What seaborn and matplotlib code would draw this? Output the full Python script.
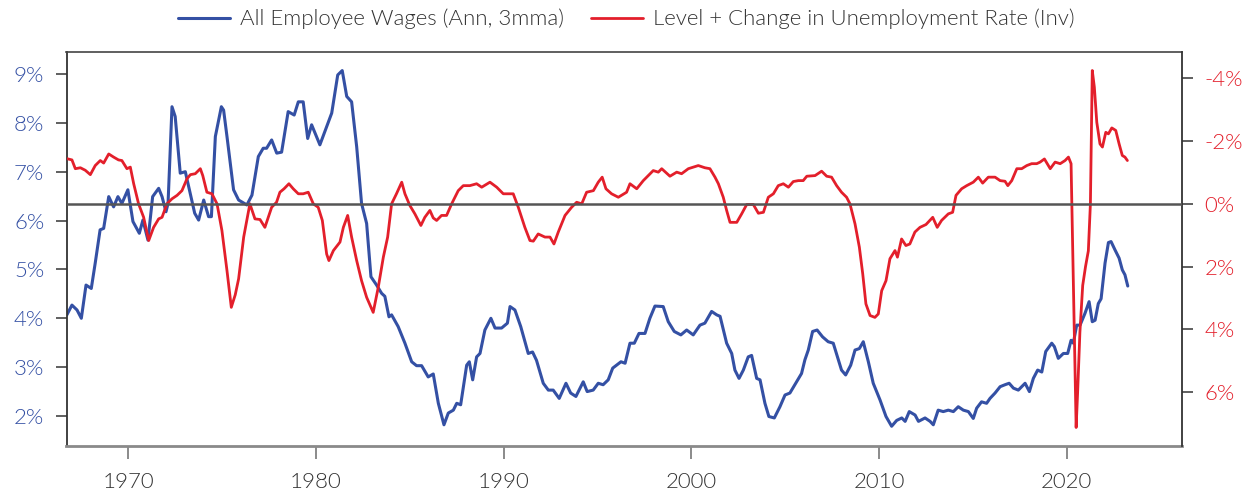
import numpy as np
import pandas as pd
import matplotlib
matplotlib.use("Agg")
import matplotlib.pyplot as plt
import seaborn as sns
from matplotlib.ticker import FuncFormatter
from matplotlib import font_manager as fm

# ---------------- data ----------------
wage_years = [
    1966.73, 1967.00, 1967.27, 1967.50, 1967.75, 1968.03, 1968.24, 1968.50, 1968.69, 1968.96,
    1969.22, 1969.45, 1969.66, 1969.98, 1970.25, 1970.59, 1970.78, 1971.05, 1971.30, 1971.62,
    1971.80, 1972.01, 1972.12, 1972.33, 1972.50, 1972.77, 1973.04, 1973.30, 1973.54, 1973.75,
    1974.02, 1974.28, 1974.43, 1974.64, 1974.96, 1975.08, 1975.26, 1975.61, 1975.88, 1976.32,
    1976.59, 1976.93, 1977.19, 1977.37, 1977.64, 1977.91, 1978.17, 1978.52, 1978.84, 1979.06,
    1979.32, 1979.56, 1979.77, 1980.21, 1980.57, 1980.84, 1981.16, 1981.40, 1981.64, 1981.90,
    1982.17, 1982.43, 1982.70, 1982.93, 1983.23, 1983.50, 1983.67, 1983.89, 1984.03, 1984.38,
    1984.74, 1985.10, 1985.36, 1985.63, 1985.98, 1986.25, 1986.52, 1986.82, 1987.05, 1987.32,
    1987.50, 1987.71, 1988.03, 1988.17, 1988.35, 1988.56, 1988.74, 1989.00, 1989.32, 1989.54,
    1989.89, 1990.20, 1990.34, 1990.60, 1990.91, 1991.31, 1991.54, 1991.75, 1992.11, 1992.38,
    1992.64, 1992.96, 1993.32, 1993.57, 1993.85, 1994.24, 1994.45, 1994.77, 1995.04, 1995.30,
    1995.57, 1995.81, 1996.25, 1996.47, 1996.73, 1996.96, 1997.21, 1997.53, 1997.79, 1998.06,
    1998.50, 1998.77, 1999.09, 1999.44, 1999.75, 2000.10, 2000.46, 2000.72, 2001.08, 2001.35,
    2001.53, 2001.88, 2002.15, 2002.32, 2002.54, 2002.77, 2003.03, 2003.21, 2003.48, 2003.66,
    2003.92, 2004.13, 2004.42, 2004.72, 2004.99, 2005.25, 2005.61, 2005.87, 2006.05, 2006.23,
    2006.46, 2006.70, 2006.99, 2007.29, 2007.56, 2007.73, 2008.00, 2008.22, 2008.49, 2008.72,
    2008.95, 2009.16, 2009.43, 2009.69, 2010.05, 2010.37, 2010.67, 2010.94, 2011.21, 2011.39,
    2011.61, 2011.92, 2012.10, 2012.45, 2012.72, 2012.89, 2013.15, 2013.42, 2013.69, 2013.96,
    2014.22, 2014.49, 2014.76, 2015.02, 2015.20, 2015.46, 2015.73, 2015.91, 2016.18, 2016.45,
    2016.71, 2016.93, 2017.16, 2017.42, 2017.78, 2018.01, 2018.22, 2018.45, 2018.67, 2018.88,
    2019.20, 2019.34, 2019.55, 2019.82, 2020.05, 2020.23, 2020.35, 2020.53, 2020.71, 2020.97,
    2021.19, 2021.36, 2021.51, 2021.68, 2021.83, 2022.04, 2022.22, 2022.36, 2022.57, 2022.79,
    2022.96, 2023.10, 2023.25,
]
wage_values = [
    4.07, 4.27, 4.17, 4.00, 4.68, 4.61, 5.13, 5.81, 5.84, 6.49,
    6.28, 6.49, 6.35, 6.63, 5.98, 5.74, 6.01, 5.60, 6.49, 6.66,
    6.49, 6.18, 6.35, 8.33, 8.13, 6.97, 7.00, 6.56, 6.15, 6.01,
    6.42, 6.08, 6.08, 7.72, 8.33, 8.26, 7.72, 6.63, 6.42, 6.32,
    6.52, 7.31, 7.48, 7.48, 7.65, 7.38, 7.40, 8.23, 8.16, 8.43,
    8.43, 7.68, 7.96, 7.55, 7.92, 8.20, 8.98, 9.07, 8.54, 8.43,
    7.51, 6.35, 5.94, 4.85, 4.68, 4.51, 4.45, 4.03, 4.07, 3.83,
    3.49, 3.11, 3.03, 3.03, 2.80, 2.86, 2.26, 1.82, 2.06, 2.12,
    2.26, 2.23, 3.04, 3.11, 2.74, 3.21, 3.28, 3.76, 4.00, 3.80,
    3.80, 3.90, 4.24, 4.17, 3.83, 3.28, 3.31, 3.14, 2.67, 2.53,
    2.53, 2.36, 2.67, 2.47, 2.40, 2.70, 2.50, 2.53, 2.67, 2.64,
    2.74, 2.98, 3.11, 3.08, 3.49, 3.49, 3.69, 3.69, 4.00, 4.25,
    4.24, 3.93, 3.73, 3.66, 3.76, 3.66, 3.86, 3.90, 4.14, 4.07,
    4.04, 3.49, 3.28, 2.94, 2.77, 2.94, 3.21, 3.24, 2.77, 2.74,
    2.26, 1.99, 1.96, 2.19, 2.43, 2.47, 2.70, 2.87, 3.15, 3.35,
    3.73, 3.76, 3.62, 3.52, 3.49, 3.28, 2.94, 2.84, 3.04, 3.35,
    3.38, 3.52, 3.11, 2.67, 2.33, 1.99, 1.79, 1.91, 1.96, 1.89,
    2.09, 2.02, 1.89, 1.96, 1.89, 1.82, 2.12, 2.09, 2.12, 2.09,
    2.19, 2.12, 2.09, 1.95, 2.16, 2.29, 2.26, 2.36, 2.47, 2.60,
    2.64, 2.67, 2.57, 2.53, 2.67, 2.50, 2.77, 2.94, 2.90, 3.32,
    3.49, 3.42, 3.18, 3.28, 3.28, 3.55, 3.49, 3.86, 3.86, 4.10,
    4.34, 3.93, 3.96, 4.30, 4.40, 5.13, 5.55, 5.57, 5.40, 5.23,
    4.99, 4.89, 4.66,
]

unemp_years = [
    1966.73, 1967.00, 1967.18, 1967.45, 1967.71, 1967.98, 1968.24, 1968.51, 1968.69, 1968.96,
    1969.22, 1969.48, 1969.66, 1969.93, 1970.11, 1970.29, 1970.55, 1970.82, 1971.09, 1971.35,
    1971.62, 1971.80, 1972.06, 1972.33, 1972.60, 1972.86, 1973.13, 1973.31, 1973.57, 1973.84,
    1973.97, 1974.19, 1974.46, 1974.73, 1974.99, 1975.26, 1975.49, 1975.70, 1975.88, 1976.15,
    1976.48, 1976.75, 1977.02, 1977.28, 1977.64, 1977.90, 1978.08, 1978.30, 1978.56, 1978.79,
    1979.06, 1979.32, 1979.59, 1979.86, 1980.12, 1980.34, 1980.57, 1980.69, 1980.93, 1981.28,
    1981.46, 1981.69, 1981.90, 1982.17, 1982.43, 1982.70, 1983.05, 1983.32, 1983.59, 1983.82,
    1984.03, 1984.29, 1984.57, 1984.74, 1985.00, 1985.27, 1985.59, 1985.80, 1986.07, 1986.25,
    1986.43, 1986.69, 1986.96, 1987.23, 1987.58, 1987.85, 1988.20, 1988.56, 1988.83, 1989.27,
    1989.63, 1989.98, 1990.51, 1990.78, 1991.13, 1991.40, 1991.58, 1991.84, 1992.20, 1992.47,
    1992.68, 1992.91, 1993.27, 1993.62, 1993.89, 1994.16, 1994.42, 1994.78, 1995.04, 1995.25,
    1995.45, 1995.75, 1996.11, 1996.55, 1996.73, 1997.09, 1997.44, 1997.62, 1997.97, 1998.24,
    1998.42, 1998.86, 1999.22, 1999.48, 1999.84, 2000.37, 2000.72, 2000.99, 2001.26, 2001.44,
    2001.70, 2001.88, 2002.06, 2002.42, 2002.68, 2002.95, 2003.30, 2003.57, 2003.84, 2004.10,
    2004.37, 2004.63, 2004.90, 2005.17, 2005.43, 2005.70, 2005.96, 2006.15, 2006.59, 2006.94,
    2007.21, 2007.47, 2007.74, 2008.00, 2008.27, 2008.45, 2008.72, 2008.95, 2009.13, 2009.30,
    2009.52, 2009.78, 2009.96, 2010.14, 2010.37, 2010.58, 2010.85, 2010.98, 2011.20, 2011.43,
    2011.64, 2011.91, 2012.18, 2012.50, 2012.86, 2013.10, 2013.33, 2013.69, 2013.92, 2014.10,
    2014.40, 2014.67, 2015.02, 2015.29, 2015.52, 2015.82, 2016.18, 2016.45, 2016.71, 2016.86,
    2017.07, 2017.34, 2017.60, 2017.87, 2018.13, 2018.40, 2018.58, 2018.81, 2019.12, 2019.38,
    2019.65, 2019.91, 2020.09, 2020.23, 2020.50, 2020.58, 2020.70, 2020.85, 2021.00, 2021.15,
    2021.26, 2021.36, 2021.47, 2021.60, 2021.77, 2021.90, 2022.08, 2022.22, 2022.40, 2022.61,
    2022.79, 2022.96, 2023.10, 2023.23,
]
unemp_values = [
    -1.44, -1.40, -1.12, -1.15, -1.07, -0.93, -1.22, -1.38, -1.30, -1.59,
    -1.49, -1.40, -1.38, -1.12, -1.17, -0.64, 0.00, 0.43, 1.17, 0.75,
    0.48, 0.43, 0.00, -0.16, -0.27, -0.42, -0.80, -0.93, -0.96, -1.12,
    -0.90, -0.37, -0.32, 0.00, 0.85, 2.13, 3.30, 2.90, 2.39, 1.06,
    0.00, 0.48, 0.50, 0.75, 0.11, -0.05, -0.37, -0.48, -0.64, -0.48,
    -0.32, -0.32, -0.37, 0.00, 0.11, 0.53, 1.60, 1.81, 1.49, 1.22,
    0.75, 0.37, 1.06, 1.81, 2.45, 2.98, 3.46, 2.66, 1.70, 1.06,
    0.00, -0.32, -0.69, -0.32, 0.05, 0.32, 0.69, 0.43, 0.21, 0.45,
    0.53, 0.37, 0.37, 0.00, -0.42, -0.58, -0.58, -0.64, -0.53, -0.69,
    -0.53, -0.32, -0.32, 0.11, 0.75, 1.17, 1.19, 0.96, 1.06, 1.06,
    1.28, 0.90, 0.37, 0.11, -0.05, 0.00, -0.37, -0.42, -0.69, -0.85,
    -0.48, -0.32, -0.21, -0.37, -0.64, -0.48, -0.74, -0.85, -1.06, -1.01,
    -1.12, -0.88, -1.01, -0.96, -1.12, -1.22, -1.15, -1.12, -0.85, -0.64,
    -0.21, 0.21, 0.59, 0.59, 0.32, 0.02, 0.02, 0.30, 0.27, -0.21,
    -0.32, -0.58, -0.64, -0.53, -0.71, -0.74, -0.74, -0.88, -0.90, -1.04,
    -0.88, -0.85, -0.58, -0.37, -0.21, 0.00, 0.64, 1.38, 2.23, 3.19,
    3.56, 3.62, 3.51, 2.77, 2.45, 1.75, 1.49, 1.70, 1.12, 1.33,
    1.28, 0.90, 0.75, 0.66, 0.43, 0.75, 0.53, 0.32, 0.27, -0.27,
    -0.48, -0.58, -0.69, -0.85, -0.66, -0.85, -0.85, -0.74, -0.72, -0.58,
    -0.74, -1.12, -1.12, -1.22, -1.28, -1.28, -1.33, -1.43, -1.12, -1.33,
    -1.28, -1.38, -1.49, -1.28, 7.13, 6.00, 4.10, 2.60, 2.00, 1.50,
    0.00, -4.25, -3.72, -2.60, -1.91, -1.81, -2.28, -2.23, -2.42, -2.34,
    -1.91, -1.54, -1.49, -1.38,
]

x_ticks = [1970, 1980, 1990, 2000, 2010, 2020]
left_ticks = [2, 3, 4, 5, 6, 7, 8, 9]
right_ticks = [-4, -2, 0, 2, 4, 6]
wage_label = "All Employee Wages (Ann, 3mma)"
unemp_label = "Level + Change in Unemployment Rate (Inv)"

# ---------------- style ----------------
BLUE = "#3450a4"
RED = "#e31f2b"
sns.set_style("white")

# choose a light (weight ~300) sans face if one is installed, else regular Lato
light_path = None
for f in fm.fontManager.ttflist:
    if f.name in ("Lato", "Open Sans", "Roboto") and (f.weight == 300 or f.weight == "light") \
            and f.style == "normal":
        light_path = f.fname
        if f.name == "Lato":
            break
if light_path is not None:
    fam = fm.FontProperties(fname=light_path).get_name()
    plt.rcParams["font.family"] = [fam, "DejaVu Sans"]
    plt.rcParams["font.weight"] = 300
else:
    plt.rcParams["font.family"] = ["Lato", "DejaVu Sans"]

wage_df = pd.DataFrame({"year": wage_years, "value": wage_values})
unemp_df = pd.DataFrame({"year": unemp_years, "value": unemp_values})

W, H = 1252, 496
fig = plt.figure(figsize=(W / 100, H / 100), dpi=100)
L, R, T, B = 66.5, 1182, 52, 446
ax = fig.add_axes([L / W, 1 - B / H, (R - L) / W, (B - T) / H])
ax2 = ax.twinx()

sns.lineplot(data=wage_df, x="year", y="value", ax=ax, color=BLUE, lw=2.2,
             label=wage_label, legend=False)
sns.lineplot(data=unemp_df, x="year", y="value", ax=ax2, color=RED, lw=2.0,
             label=unemp_label, legend=False)
ax2.axhline(0, color="#555555", lw=1.8, zorder=5)

ax.set_xlim(1966.71, 2026.14)
ax.set_ylim(1.386, 9.45)
ax2.set_ylim(7.72, -4.84)

ax.set_xticks(x_ticks)
ax.set_yticks(left_ticks)
ax2.set_yticks(right_ticks)
ax.yaxis.set_major_formatter(FuncFormatter(lambda v, p: f"{v:.0f}%"))
ax2.yaxis.set_major_formatter(FuncFormatter(lambda v, p: f"{v:.0f}%"))
ax.set_xlabel("")
ax.set_ylabel("")
ax2.set_ylabel("")

ax.tick_params(axis="y", colors="#444444", labelcolor=BLUE, labelsize=16,
               length=8, width=1.2, pad=8, direction="out", left=True)
ax2.tick_params(axis="y", colors="#444444", labelcolor=RED, labelsize=16,
                length=8, width=1.2, pad=8, direction="out", right=True)
ax.tick_params(axis="x", colors="#777777", labelcolor="#333333", labelsize=16,
               length=9, width=1.2, pad=10, direction="out", bottom=True)

for a in (ax, ax2):
    for s in a.spines.values():
        s.set_visible(False)
ax.spines["left"].set_visible(True)
ax.spines["left"].set_color("#333333")
ax.spines["left"].set_linewidth(1.3)
ax.spines["top"].set_visible(True)
ax.spines["top"].set_color("#444444")
ax.spines["top"].set_linewidth(1.2)
ax.spines["bottom"].set_visible(True)
ax.spines["bottom"].set_color("#8a8a8a")
ax.spines["bottom"].set_linewidth(2.0)
ax2.spines["right"].set_visible(True)
ax2.spines["right"].set_color("#333333")
ax2.spines["right"].set_linewidth(1.3)
ax.grid(False)
ax2.grid(False)

handles = [ax.lines[0], ax2.lines[0]]
fig.legend(handles, [wage_label, unemp_label], loc="center",
           bbox_to_anchor=(0.5, 1 - 19 / H), ncol=2, frameon=False,
           fontsize=16, handlelength=2.35, handletextpad=0.45, columnspacing=1.2,
           labelcolor="#333333")

fig.savefig("out.png", dpi=100)
